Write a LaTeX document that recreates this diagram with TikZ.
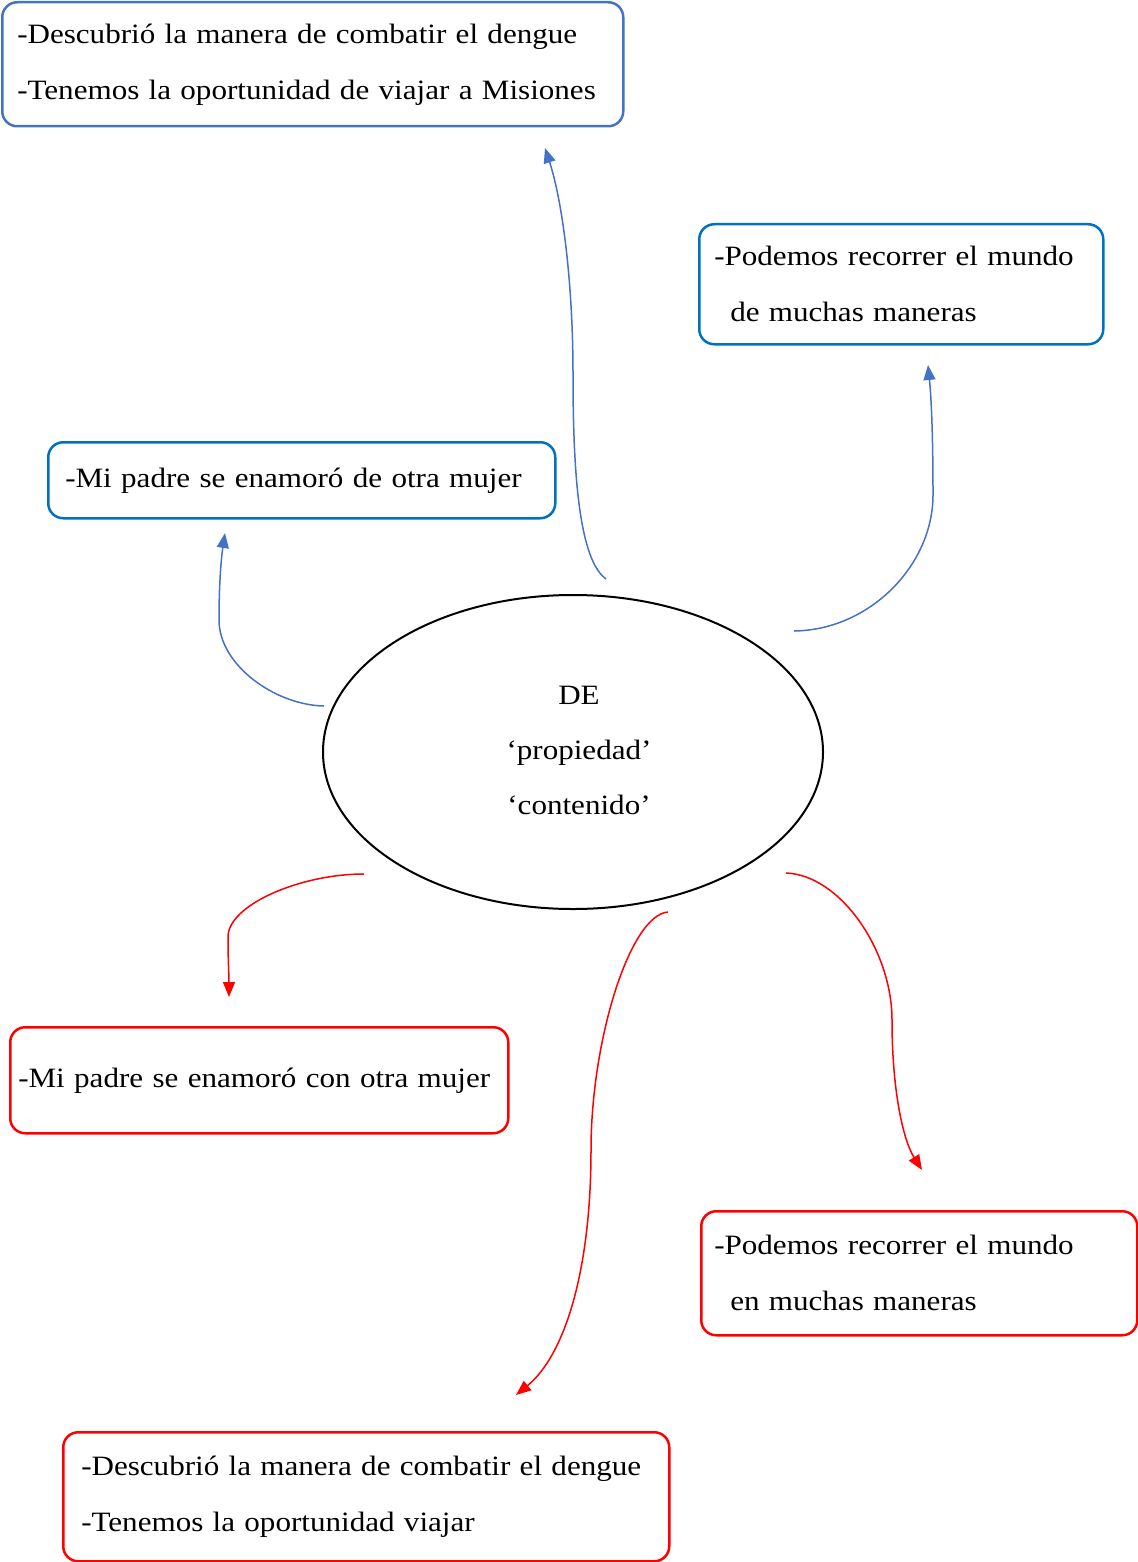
\documentclass[tikz,border=0pt]{standalone}
\usepackage{fontspec}
\setmainfont[FakeStretch=1.11]{Liberation Serif}
\usetikzlibrary{arrows.meta,shapes.geometric}
\definecolor{boxblueA}{HTML}{4472C4}
\definecolor{boxblueB}{HTML}{0070C0}
\definecolor{linkblue}{HTML}{4472C4}
\definecolor{linkred}{HTML}{FF0000}
\tikzset{
  txt/.style={font=\fontsize{28}{56}\selectfont, align=left},
  rbox/.style={txt, draw, line width=2.5pt, rounded corners=15pt, inner xsep=15pt, inner ysep=0pt, anchor=north west},
  bluelink/.style={draw=linkblue, line width=1.5pt, -{Triangle[length=15pt,width=12pt]}},
  redlink/.style={draw=linkred, line width=1.5pt, -{Triangle[length=15pt,width=12pt]}}
}
\begin{document}
\begin{tikzpicture}[x=1pt,y=-1pt]
\useasboundingbox (0,0) rectangle (1137,1562);
% boxes
\node[rbox, draw=boxblueA, text width=591pt, minimum height=124pt] (b1) at (1,1)
  {-Descubrió la manera de combatir el dengue\\-Tenemos la oportunidad de viajar a Misiones};
\node[rbox, draw=boxblueB, text width=374pt, minimum height=120pt] (b2) at (698,223)
  {-Podemos recorrer el mundo\\\hspace*{16pt}de muchas maneras};
\node[rbox, draw=boxblueB, text width=473pt, minimum height=76pt, inner xsep=17pt] (b3) at (47,441)
  {-Mi padre se enamoró de otra mujer};
\node[rbox, draw=linkred, text width=482pt, minimum height=106pt, inner xsep=8pt] (r1) at (9,1026)
  {-Mi padre se enamoró con otra mujer};
\node[rbox, draw=linkred, text width=410pt, minimum height=124pt, inner xsep=13pt] (r2) at (700,1210)
  {-Podemos recorrer el mundo\\\hspace*{16pt}en muchas maneras};
\node[rbox, draw=linkred, text width=570pt, minimum height=129pt, inner xsep=18pt] (r3) at (62,1431)
  {-Descubrió la manera de combatir el dengue\\-Tenemos la oportunidad viajar};
% ellipse
\node[ellipse, draw, line width=2pt, minimum width=500pt, minimum height=314pt, inner sep=0pt] (e) at (573,752) {};
\node[txt, align=center, font=\fontsize{28}{55}\selectfont] (et) at (579,750) {DE\\‘propiedad’\\‘contenido’};
% connector ends
\coordinate (a1) at (606,579); \coordinate (a2) at (545,148);
\coordinate (c1) at (794,631); \coordinate (c2) at (928,365);
\coordinate (d1) at (324,706); \coordinate (d2) at (225,533);
\coordinate (f1) at (364,874); \coordinate (f2) at (229,997);
\coordinate (g1) at (668,912); \coordinate (g2) at (516,1395);
\coordinate (h1) at (786,873); \coordinate (h2) at (922,1170);
% blue connectors
\draw[bluelink] (a1) .. controls (580,560) and (573,480) .. (573,375) .. controls (573,280) and (562,200) .. (a2);
\draw[bluelink] (c1) .. controls (870,630) and (933,565) .. (933,495) .. controls (933,430) and (931,395) .. (c2);
\draw[bluelink] (d1) .. controls (275,705) and (219,665) .. (219,620) .. controls (219,585) and (221,560) .. (d2);
% red connectors
\draw[redlink] (f1) .. controls (300,874) and (228,905) .. (228,937) .. controls (228,960) and (229,975) .. (f2);
\draw[redlink] (g1) .. controls (630,915) and (591,1040) .. (591,1150) .. controls (591,1270) and (565,1355) .. (g2);
\draw[redlink] (h1) .. controls (840,875) and (892,950) .. (892,1020) .. controls (892,1090) and (903,1140) .. (h2);
\end{tikzpicture}
\end{document}
